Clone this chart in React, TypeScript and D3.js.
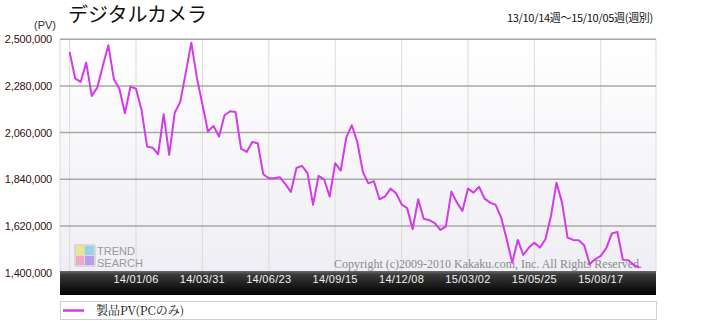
import React from "react";
import * as d3 from "d3";

const seriesName = "製品PV(PCのみ)";
const startDate = "13/10/14";
const tickLabels = ["14/01/06", "14/03/31", "14/06/23", "14/09/15", "14/12/08", "15/03/02", "15/05/25", "15/08/17"];
const tickWeeks = [12, 24, 36, 48, 60, 72, 84, 96];
const yTicks = [1400000, 1620000, 1840000, 2060000, 2280000, 2500000];
const values = [
  2440000, 2316000, 2299000, 2390000, 2233000, 2272000, 2374000, 2472000, 2312000, 2267000,
  2151000, 2277000, 2267000, 2167000, 1994000, 1989000, 1958000, 2147000, 1955000, 2154000,
  2205000, 2343000, 2484000, 2319000, 2194000, 2065000, 2091000, 2041000, 2142000, 2161000,
  2157000, 1984000, 1969000, 2016000, 2010000, 1864000, 1845000, 1845000, 1850000, 1817000,
  1780000, 1893000, 1903000, 1869000, 1720000, 1856000, 1840000, 1758000, 1916000, 1881000,
  2036000, 2095000, 2016000, 1875000, 1821000, 1831000, 1746000, 1758000, 1796000, 1774000,
  1722000, 1704000, 1605000, 1746000, 1654000, 1647000, 1633000, 1601000, 1617000, 1782000,
  1730000, 1691000, 1796000, 1777000, 1805000, 1749000, 1730000, 1719000, 1659000, 1557000,
  1447000, 1554000, 1483000, 1518000, 1541000, 1518000, 1557000, 1667000, 1824000, 1730000,
  1565000, 1554000, 1552000, 1529000, 1440000, 1463000, 1479000, 1515000, 1584000, 1592000,
  1460000, 1458000, 1435000, 1424000,
];

const W = 715, H = 321;
const plotL = 60, plotR = 656, plotT = 39.3, plotB = 272.6;

export default function App() {
  const x = d3.scaleLinear().domain([0, 103]).range([69.6, 69.6 + 5.533 * 103]);
  const y = d3.scaleLinear().domain([1400000, 2500000]).range([plotB, plotT]);
  const line = d3.line<number>().x((_, i) => x(i)).y((d) => y(d));
  const gridWeeks = [0, ...tickWeeks];
  const fmt = d3.format(",");
  return (
    <svg width={W} height={H} style={{ position: "absolute", left: 0, top: 0 }}>
      <defs>
        <linearGradient id="bg" x1="0" y1="0" x2="0" y2="1">
          <stop offset="0" stopColor="#ffffff" />
          <stop offset="1" stopColor="#eeeef4" />
        </linearGradient>
        <linearGradient id="band" x1="0" y1="0" x2="0" y2="1">
          <stop offset="0" stopColor="#6a6a6a" />
          <stop offset="0.15" stopColor="#3a3a3a" />
          <stop offset="1" stopColor="#000000" />
        </linearGradient>
      </defs>
      <rect x={0} y={0} width={W} height={H} fill="#fff" />
      <text x={68} y={22} fontFamily="'Noto Sans CJK JP'" fontSize={20} fill="#111">デジタルカメラ</text>
      <text x={56} y={29} textAnchor="end" fontFamily="'Liberation Sans', Arial" fontSize={11} fill="#333">(PV)</text>
      <text x={653} y={22} textAnchor="end" fontFamily="'Noto Sans CJK JP'" fontSize={11} fill="#111" letterSpacing={-0.3}>{startDate}週～15/10/05週(週別)</text>
      <rect x={plotL} y={plotT} width={plotR - plotL} height={plotB - plotT} fill="url(#bg)" stroke="#dcdce2" strokeWidth={1} />
      {gridWeeks.map((w) => (
        <line key={w} x1={x(w)} x2={x(w)} y1={plotT} y2={plotB} stroke="#dcdcdc" strokeWidth={1} />
      ))}
      {yTicks.map((t) => (
        <g key={t}>
          <line x1={plotL} x2={plotR} y1={y(t)} y2={y(t)} stroke="#a8a8a8" strokeWidth={1.5} />
          <text x={52} y={y(t) + 4} textAnchor="end" fontFamily="'Liberation Sans', Arial" fontSize={11} fill="#3a1010" letterSpacing={-0.2}>{fmt(t)}</text>
        </g>
      ))}
      <g transform="translate(74,244)">
        <rect x={0} y={0} width={22} height={23} fill="#d8d8d8" rx={2} />
        <rect x={2} y={2} width={8} height={9} fill="#e6e88a" />
        <rect x={11} y={2} width={9} height={9} fill="#9ad0e8" />
        <rect x={2} y={12} width={8} height={9} fill="#f0a8c8" />
        <rect x={11} y={12} width={9} height={9} fill="#b8a0e8" />
        <text x={23} y={11} fontFamily="'Liberation Sans', Arial" fontSize={11} fill="#9a9a9a">TREND</text>
        <text x={23} y={23} fontFamily="'Liberation Sans', Arial" fontSize={11} fill="#9a9a9a">SEARCH</text>
      </g>
      <text x={642} y={268} textAnchor="end" fontFamily="'Liberation Serif', 'Times New Roman'" fontSize={12} fill="#8a8a8a">Copyright (c)2009-2010 Kakaku.com, Inc. All Rights Reserved.</text>
      <path d={line(values) || ""} fill="none" stroke="#d43be8" strokeWidth={2} strokeLinejoin="round" />
      <rect x={plotL} y={271} width={plotR - plotL} height={24} fill="url(#band)" />
      {tickWeeks.map((w, i) => (
        <text key={w} x={x(w)} y={283} textAnchor="middle" fontFamily="'Liberation Sans', Arial" fontSize={11} fill="#f0f0f0" letterSpacing={0.3}>{tickLabels[i]}</text>
      ))}
      <rect x={plotL + 0.5} y={301.5} width={plotR - plotL} height={18} fill="#fff" stroke="#d0d0d0" strokeWidth={1} />
      <line x1={63} x2={84} y1={310.5} y2={310.5} stroke="#d43be8" strokeWidth={2.5} />
      <text x={96} y={315} fontFamily="'Noto Serif CJK JP', 'Liberation Serif', serif" fontSize={12} fill="#111">{seriesName}</text>
    </svg>
  );
}
